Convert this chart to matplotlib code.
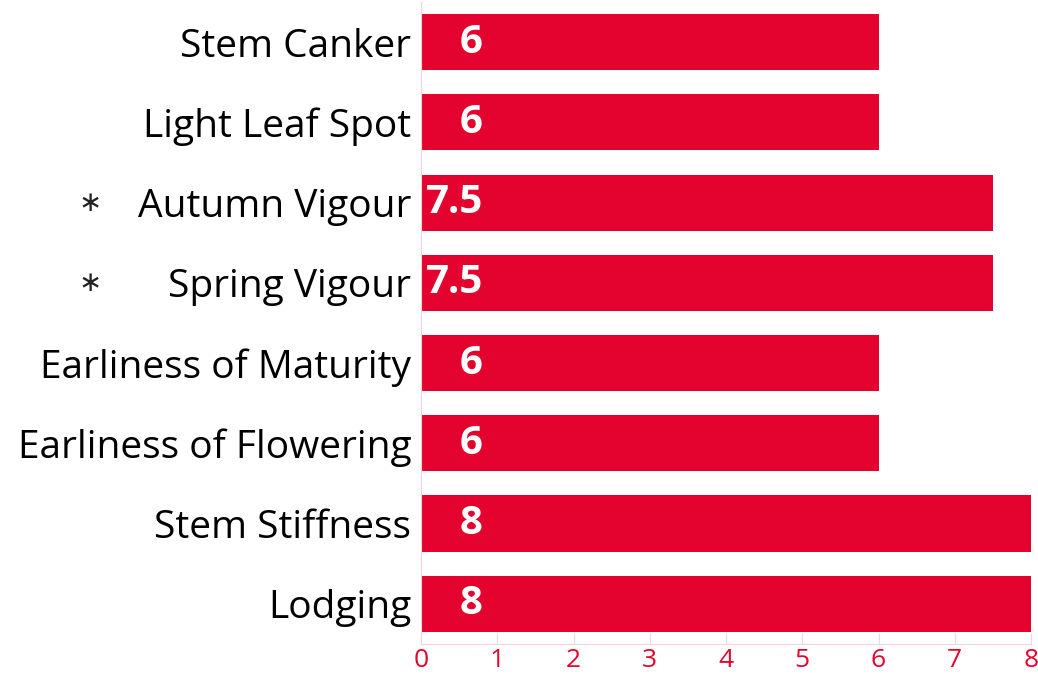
import matplotlib.pyplot as plt
import numpy as np

plt.rcParams['font.family'] = ['Open Sans', 'DejaVu Sans']

# Data (top to bottom as displayed)
categories = ["Stem Canker", "Light Leaf Spot", "Autumn Vigour", "Spring Vigour",
              "Earliness of Maturity", "Earliness of Flowering", "Stem Stiffness", "Lodging"]
values = [6, 6, 7.5, 7.5, 6, 6, 8, 8]
value_labels = ["6", "6", "7.5", "7.5", "6", "6", "8", "8"]
starred = [False, False, True, True, False, False, False, False]

RED = '#E4032E'
LIGHT = '#F4D3DA'

fig = plt.figure(figsize=(10.38, 6.77), dpi=100)
ax = fig.add_axes([0.4056, 0.049, 0.5877, 0.948])

y = np.arange(len(categories))[::-1]
ax.barh(y, values, height=0.7, color=RED)

for yi, lab in zip(y, value_labels):
    ax.text(0.81, yi, lab, ha='right', va='center', color='white',
            fontsize=29, fontweight='bold')

ax.set_yticks(y)
ax.set_yticklabels(categories, fontsize=28)
ax.tick_params(axis='y', length=0, pad=7)

for yi, s in zip(y, starred):
    if s:
        ax.annotate('\u2217', xy=(0, yi), xycoords=('figure fraction', 'data'),
                    xytext=(90, 0), textcoords='offset pixels',
                    ha='center', va='center', fontsize=20, color='#222222',
                    family='DejaVu Sans')

ax.set_xlim(0, 8)
ax.set_ylim(-0.5, len(categories) - 0.5)
ax.set_xticks(range(0, 9))
ax.tick_params(axis='x', direction='in', length=8, color=LIGHT, labelcolor=RED,
               labelsize=19, pad=3)

for side in ['top', 'right']:
    ax.spines[side].set_visible(False)
for side in ['left', 'bottom']:
    ax.spines[side].set_color(LIGHT)
ax.set_axisbelow(True)

fig.savefig('out.png', dpi=100)
